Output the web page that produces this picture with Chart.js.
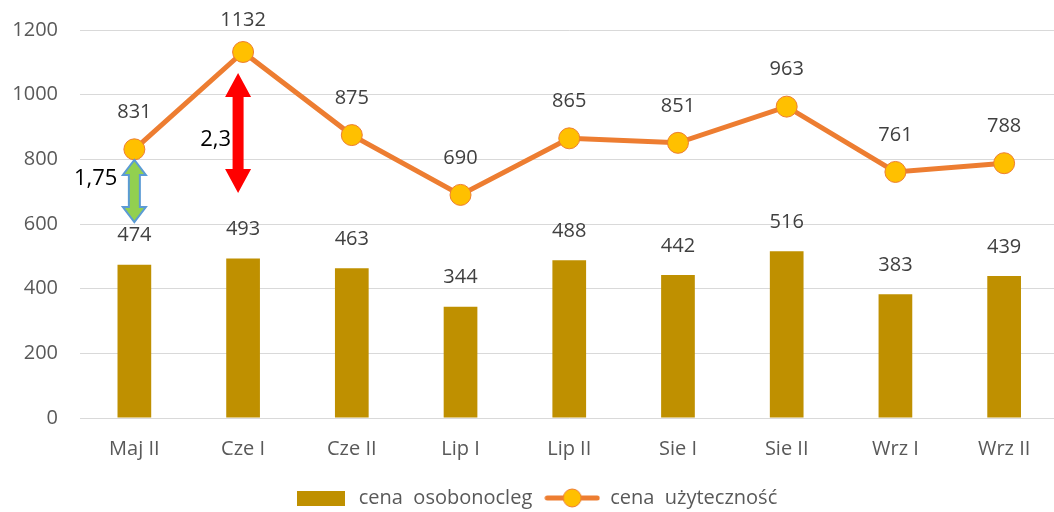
<!DOCTYPE html>
<html>
<head>
<meta charset="utf-8">
<script src="https://cdn.jsdelivr.net/npm/chart.js@4"></script>
<style>
  html, body { margin: 0; padding: 0; background: #fff; overflow: hidden; }
  #wrap { width: 1070px; height: 518px; position: relative; }
</style>
</head>
<body>
<div id="wrap"><canvas id="priceChart"></canvas></div>
<script>
// Periods and prices
const periods = ['Maj II', 'Cze I', 'Cze II', 'Lip I', 'Lip II', 'Sie I', 'Sie II', 'Wrz I', 'Wrz II'];
const cenaOsobonocleg = [474, 493, 463, 344, 488, 442, 516, 383, 439];
const cenaUzytecznosc = [831, 1132, 875, 690, 865, 851, 963, 761, 788];
const yTicks = [0, 200, 400, 600, 800, 1000, 1200];

// Ratio arrows: category index, top value, bottom value, label
const ratioIndex = [0, 1];
const ratioTop = [798, 1067];
const ratioBottom = [606, 696];
const ratioLabels = ['1,75', '2,3'];

const FONT = '"Open Sans", "Noto Sans", sans-serif';
const TEXT = '#595959';

// Legend swatches
function barSwatch() {
    const c = document.createElement('canvas');
    c.width = 48; c.height = 15;
    const g = c.getContext('2d');
    g.fillStyle = '#BF9000';
    g.fillRect(0, 0, 48, 15);
    return c;
}
function lineSwatch() {
    const c = document.createElement('canvas');
    c.width = 56; c.height = 22;
    const g = c.getContext('2d');
    g.strokeStyle = '#ED7D31';
    g.lineWidth = 5;
    g.lineCap = 'round';
    g.beginPath(); g.moveTo(3, 11); g.lineTo(53, 11); g.stroke();
    g.beginPath(); g.arc(28, 11, 9, 0, Math.PI * 2);
    g.fillStyle = '#FFC000'; g.fill();
    g.lineWidth = 1; g.stroke();
    return c;
}

// Value labels above bars and points
const valueLabels = {
    id: 'valueLabels',
    afterDatasetsDraw(chart) {
        const ctx = chart.ctx;
        ctx.save();
        ctx.font = '20px ' + FONT;
        ctx.fillStyle = '#404040';
        ctx.textAlign = 'center';
        ctx.textBaseline = 'middle';
        chart.data.datasets.forEach((ds, i) => {
            const meta = chart.getDatasetMeta(i);
            const off = ds.type === 'line' ? 37 : 29;
            meta.data.forEach((el, j) => {
                ctx.fillText(ds.data[j], el.x, Math.max(el.y - off, 20));
            });
        });
        ctx.restore();
    }
};

function doubleArrow(ctx, x, y1, y2, shaft, head, headH) {
    ctx.beginPath();
    ctx.moveTo(x, y1);
    ctx.lineTo(x + head / 2, y1 + headH);
    ctx.lineTo(x + shaft / 2, y1 + headH);
    ctx.lineTo(x + shaft / 2, y2 - headH);
    ctx.lineTo(x + head / 2, y2 - headH);
    ctx.lineTo(x, y2);
    ctx.lineTo(x - head / 2, y2 - headH);
    ctx.lineTo(x - shaft / 2, y2 - headH);
    ctx.lineTo(x - shaft / 2, y1 + headH);
    ctx.lineTo(x - head / 2, y1 + headH);
    ctx.closePath();
}

// Ratio arrows between the two series
const ratioArrows = {
    id: 'ratioArrows',
    afterDatasetsDraw(chart) {
        const ctx = chart.ctx;
        const xs = chart.scales.x, ys = chart.scales.y;
        ctx.save();
        ratioIndex.forEach((idx, k) => {
            const y1 = ys.getPixelForValue(ratioTop[k]);
            const y2 = ys.getPixelForValue(ratioBottom[k]);
            let x = xs.getPixelForValue(idx);
            let ly;
            if (k === 0) {
                doubleArrow(ctx, x, y1, y2, 11, 23, 15);
                ctx.fillStyle = '#92D050';
                ctx.fill();
                ctx.strokeStyle = '#5B9BD5';
                ctx.lineWidth = 2;
                ctx.stroke();
                ly = y1 + 19;
            } else {
                x -= 5;
                doubleArrow(ctx, x, y1, y2, 11, 26, 24);
                ctx.fillStyle = '#FF0000';
                ctx.fill();
                ly = (y1 + y2) / 2 + 7;
            }
            ctx.font = '22px ' + FONT;
            ctx.fillStyle = '#000';
            ctx.textAlign = 'right';
            ctx.textBaseline = 'middle';
            ctx.fillText(ratioLabels[k], x - (k === 0 ? 17 : 7), ly);
        });
        ctx.restore();
    }
};

const ctx = document.getElementById('priceChart').getContext('2d');
new Chart(ctx, {
    data: {
        labels: periods,
        datasets: [
            {
                type: 'line',
                label: 'cena  użyteczność',
                data: cenaUzytecznosc,
                borderColor: '#ED7D31',
                borderWidth: 5,
                pointRadius: 10.5,
                pointBackgroundColor: '#FFC000',
                pointBorderColor: '#ED7D31',
                pointBorderWidth: 1,
                tension: 0,
                order: 0
            },
            {
                type: 'bar',
                label: 'cena  osobonocleg',
                data: cenaOsobonocleg,
                backgroundColor: '#BF9000',
                barPercentage: 0.31,
                categoryPercentage: 1,
                order: 1
            }
        ]
    },
    options: {
        responsive: true,
        maintainAspectRatio: false,
        animation: false,
        layout: { padding: { top: 30, left: 0, right: 0, bottom: 0 } },
        scales: {
            x: {
                afterFit(scale) { scale.height = 58; },
                grid: { display: false },
                border: { display: false },
                ticks: { color: TEXT, font: { family: FONT, size: 20 }, padding: 11 }
            },
            y: {
                min: 0,
                max: 1200,
                afterBuildTicks(scale) { scale.ticks = yTicks.map(v => ({ value: v })); },
                afterFit(scale) {
                    scale.width = 80;
                    scale.paddingTop = 0;
                    scale.paddingBottom = 0;
                },
                grid: { color: '#D9D9D9', lineWidth: 1, drawTicks: false },
                border: { display: false },
                ticks: {
                    color: TEXT,
                    font: { family: FONT, size: 20 },
                    padding: 22,
                    callback: v => String(v)
                }
            }
        },
        plugins: {
            tooltip: { enabled: false },
            legend: {
                position: 'bottom',
                reverse: true,
                labels: {
                    color: TEXT,
                    font: { family: FONT, size: 20 },
                    usePointStyle: true,
                    pointStyleWidth: 56,
                    padding: 12,
                    generateLabels(chart) {
                        return chart.data.datasets.map((ds, i) => ({
                            text: ds.label,
                            datasetIndex: i,
                            pointStyle: ds.type === 'bar' ? barSwatch() : lineSwatch(),
                            fontColor: TEXT,
                            hidden: false
                        }));
                    }
                }
            }
        }
    },
    plugins: [valueLabels, ratioArrows]
});
</script>
</body>
</html>
